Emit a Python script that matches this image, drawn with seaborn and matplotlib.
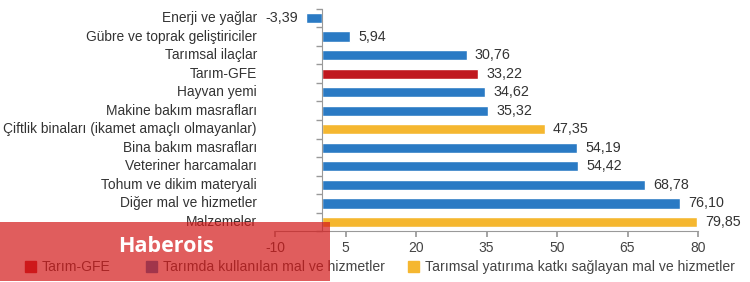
import matplotlib
matplotlib.use("Agg")
import matplotlib.pyplot as plt
import matplotlib.patches as mpatches
from matplotlib.transforms import blended_transform_factory
import seaborn as sns
import pandas as pd

categories = [
    "Enerji ve yağlar",
    "Gübre ve toprak geliştiriciler",
    "Tarımsal ilaçlar",
    "Tarım-GFE",
    "Hayvan yemi",
    "Makine bakım masrafları",
    "Çiftlik binaları (ikamet amaçlı olmayanlar)",
    "Bina bakım masrafları",
    "Veteriner harcamaları",
    "Tohum ve dikim materyali",
    "Diğer mal ve hizmetler",
    "Malzemeler",
]
values = [-3.39, 5.94, 30.76, 33.22, 34.62, 35.32, 47.35, 54.19, 54.42, 68.78, 76.10, 79.85]
groups = ["used", "used", "used", "gfe", "used", "used", "invest",
          "used", "used", "used", "used", "invest"]
value_labels = ["-3,39", "5,94", "30,76", "33,22", "34,62", "35,32", "47,35",
                "54,19", "54,42", "68,78", "76,10", "79,85"]
xticks = [-10, 5, 20, 35, 50, 65, 80]
legend_labels = ["Tarım-GFE", "Tarımda kullanılan mal ve hizmetler",
                 "Tarımsal yatırıma katkı sağlayan mal ve hizmetler"]
legend_groups = ["gfe", "used", "invest"]

palette = {"gfe": "#c0181f", "used": "#2a7ac4", "invest": "#f5b730"}

sns.set_theme(style="white")
plt.rcParams["font.family"] = ["Liberation Sans", "DejaVu Sans"]

df = pd.DataFrame({"cat": categories, "val": values, "grp": groups})

fig = plt.figure(figsize=(7.5, 2.82), dpi=100)
ax = fig.add_axes([275 / 750, 1 - 231.3 / 282, (698 - 275) / 750, (231.3 - 8.7) / 282])

sns.barplot(data=df, x="val", y="cat", hue="grp", palette=palette, dodge=False,
            legend=False, width=0.55, ax=ax, saturation=1)

ax.set_xlim(-10, 80)
ax.set_ylim(len(categories) - 0.5, -0.5)
ax.set_xticks(xticks)
ax.set_xticklabels([str(t) for t in xticks], fontsize=10, color="#444444")
ax.set_xlabel("")
ax.set_ylabel("")

for s in ["top", "right"]:
    ax.spines[s].set_visible(False)
ax.spines["bottom"].set_color("#999999")
ax.spines["bottom"].set_linewidth(0.8)
ax.spines["left"].set_position(("data", 0))
ax.spines["left"].set_color("#999999")
ax.spines["left"].set_linewidth(0.8)

ax.tick_params(axis="x", direction="out", length=4, color="#999999", pad=3, bottom=True)
ax.set_yticks([i + 0.5 for i in range(-1, len(categories))], minor=True)
ax.tick_params(axis="y", which="major", left=False, labelleft=False)
ax.tick_params(axis="y", which="minor", left=True, direction="out", length=4, color="#999999")

trans = blended_transform_factory(ax.transAxes, ax.transData)
for i, c in enumerate(categories):
    ax.text(-0.043, i, c, transform=trans, ha="right", va="center",
            fontsize=9.9, color="#333333")

for i, (v, lab) in enumerate(zip(values, value_labels)):
    if v >= 0:
        ax.annotate(lab, (v, i), xytext=(6, 0), textcoords="offset points",
                    ha="left", va="center", fontsize=10.3, color="#333333")
    else:
        ax.annotate(lab, (v, i), xytext=(-6, 0), textcoords="offset points",
                    ha="right", va="center", fontsize=10.3, color="#333333")

# legend entries placed individually (uneven spacing as in the original)
legend_x = [25 / 750, 146 / 750, 408 / 750]
for lx, g, lab in zip(legend_x, legend_groups, legend_labels):
    lg = fig.legend([mpatches.Patch(color=palette[g])], [lab], loc="center left",
                    bbox_to_anchor=(lx, 0.053), frameon=False, fontsize=10.1,
                    handlelength=0.8, handleheight=0.8, handletextpad=0.4,
                    borderpad=0, borderaxespad=0)
    for t in lg.get_texts():
        t.set_color("#444444")

# watermark overlay
rect = mpatches.Rectangle((0, 1 / 282), 330 / 750, (281 - 222) / 282, transform=fig.transFigure,
                          facecolor="#d41818", alpha=0.7, edgecolor="none", zorder=10)
fig.add_artist(rect)
fig.text(118 / 750, 1 - 246 / 282, "Haberois", ha="left", va="center", color="white",
         fontsize=15.5, fontweight="bold", family=["Open Sans", "DejaVu Sans"], zorder=11)

fig.savefig("out.png", dpi=100)
